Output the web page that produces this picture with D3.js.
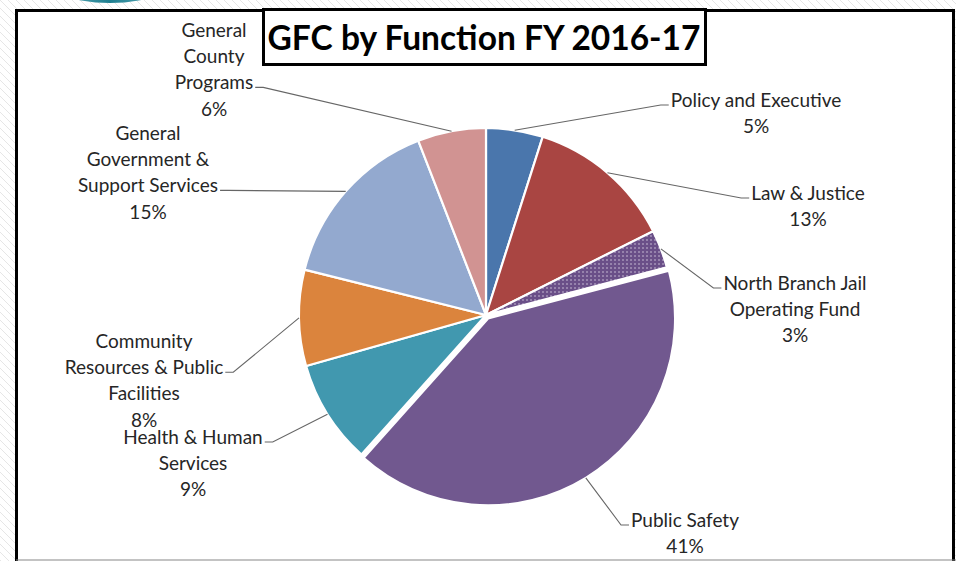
<!DOCTYPE html>
<html>
<head>
<meta charset="utf-8">
<script src="https://cdn.jsdelivr.net/npm/d3@7"></script>
<style>
  html, body { margin: 0; padding: 0; background: #fff; }
  svg { display: block; }
</style>
</head>
<body>
<div id="chart"></div>
<script>
// donnees (parts en %)
const categories = ["Policy and Executive", "Law & Justice", "North Branch Jail Operating Fund",
  "Public Safety", "Health & Human Services", "Community Resources & Public Facilities",
  "General Government & Support Services", "General County Programs"];
const values = [4.9, 12.7, 3.3, 40.7, 9.0, 8.3, 15.2, 5.9];
const pctLabels = ["5%", "13%", "3%", "41%", "9%", "8%", "15%", "6%"];
const labelLines = [
  ["Policy and Executive"],
  ["Law & Justice"],
  ["North Branch Jail", "Operating Fund"],
  ["Public Safety"],
  ["Health & Human", "Services"],
  ["Community", "Resources & Public", "Facilities"],
  ["General", "Government &", "Support Services"],
  ["General", "County", "Programs"]
];
const colors = ["#4A76AC", "#A94542", "#71588F", "#71588F", "#4198AF", "#DB843D", "#93A9CF", "#D19392"];

// mise en page des etiquettes (centre x, centre y de la 1ere ligne, ligne du connecteur, cote)
const labelLayout = [
  {x: 756, y: 101, line: 0, side: "left"},
  {x: 808, y: 194, line: 0, side: "left"},
  {x: 795, y: 284, line: 0, side: "left"},
  {x: 685, y: 521, line: 0, side: "left"},
  {x: 193, y: 438, line: 0, side: "right"},
  {x: 144, y: 342, line: 1, side: "right"},
  {x: 148, y: 134, line: 2, side: "right"},
  {x: 214, y: 31, line: 2, side: "right"}
];

const W = 956, H = 561;
const cx = 486, cy = 315, R = 187;
const LINE_H = 26.2;

const svg = d3.select("#chart").append("svg")
  .attr("width", W).attr("height", H)
  .style("font-family", "Lato, 'Open Sans', sans-serif");

const defs = svg.append("defs");
const hatch = defs.append("pattern").attr("id", "hatch")
  .attr("patternUnits", "userSpaceOnUse").attr("width", 8).attr("height", 8);
hatch.append("rect").attr("width", 8).attr("height", 8).attr("fill", "#fff");
hatch.append("path").attr("d", "M-2,-2 L10,10 M-2,6 L2,10 M6,-2 L10,2")
  .attr("stroke", "#e6e6e6").attr("stroke-width", 1);

const dots = defs.append("pattern").attr("id", "dots")
  .attr("patternUnits", "userSpaceOnUse").attr("width", 4).attr("height", 4);
dots.append("rect").attr("width", 4).attr("height", 4).attr("fill", "#6a4f88");
dots.append("circle").attr("cx", 1).attr("cy", 1).attr("r", 0.75).attr("fill", "#d8cfe3");

const grad = defs.append("linearGradient").attr("id", "teal").attr("x1", 0).attr("x2", 1);
grad.append("stop").attr("offset", "0%").attr("stop-color", "#7fc3cf");
grad.append("stop").attr("offset", "50%").attr("stop-color", "#1f7f90");
grad.append("stop").attr("offset", "100%").attr("stop-color", "#7fc3cf");

// fond
svg.append("rect").attr("width", W).attr("height", H).attr("fill", "url(#hatch)");
svg.append("ellipse").attr("cx", 110).attr("cy", -30).attr("rx", 75).attr("ry", 33)
  .attr("fill", "url(#teal)");

// cadre
svg.append("rect").attr("x", 16.5).attr("y", 10.5).attr("width", 937).attr("height", 560)
  .attr("fill", "#fff").attr("stroke", "#000").attr("stroke-width", 3);
svg.append("line").attr("x1", 16).attr("x2", 956).attr("y1", 560).attr("y2", 560)
  .attr("stroke", "#888").attr("stroke-width", 1.2);

// camembert
const pie = d3.pie().sort(null).value(d => d)
  .startAngle(0).endAngle(2 * Math.PI);
const arcs = pie(values);
const arc = d3.arc().innerRadius(0).outerRadius(R);
const edge = d3.arc().innerRadius(R).outerRadius(R);
const EXPLODE = [0, 0, 0, 4, 0, 0, 0, 0];

function offset(d, i) {
  const a = (d.startAngle + d.endAngle) / 2;
  return [Math.sin(a) * EXPLODE[i], -Math.cos(a) * EXPLODE[i]];
}

const g = svg.append("g").attr("transform", `translate(${cx},${cy})`);
g.selectAll("path.slice")
  .data(arcs)
  .join("path")
  .attr("class", "slice")
  .attr("transform", (d, i) => `translate(${offset(d, i)})`)
  .attr("d", arc)
  .attr("fill", (d, i) => i === 2 ? "url(#dots)" : colors[i])
  .attr("stroke", "#fff")
  .attr("stroke-width", 2.2)
  .attr("stroke-linejoin", "round");

// etiquettes
const labels = svg.append("g").attr("fill", "#262626").attr("font-size", 19);

arcs.forEach((d, i) => {
  const lay = labelLayout[i];
  const lines = labelLines[i].concat([pctLabels[i]]);
  const t = labels.append("text").attr("text-anchor", "middle");
  const spans = lines.map((s, k) => t.append("tspan")
    .attr("x", lay.x)
    .attr("y", lay.y + 6 + k * LINE_H)
    .text(s));

  // connecteur
  const w = spans[lay.line].node().getComputedTextLength();
  const ly = lay.y + 4 + lay.line * LINE_H;
  const lx = lay.side === "left" ? lay.x - w / 2 - 2 : lay.x + w / 2 + 2;
  const hx = lay.side === "left" ? lx - 8 : lx + 8;
  const c = edge.centroid(d);
  const o = offset(d, i);
  const sx = cx + c[0] + o[0], sy = cy + c[1] + o[1];
  svg.append("path")
    .attr("d", d3.line()([[lx, ly], [hx, ly], [sx, sy]]))
    .attr("fill", "none")
    .attr("stroke", "#666")
    .attr("stroke-width", 1.1);
});

// titre
svg.append("rect").attr("x", 263.5).attr("y", 9.5).attr("width", 442).attr("height", 55)
  .attr("fill", "#fff").attr("stroke", "#000").attr("stroke-width", 3);
svg.append("text")
  .attr("x", 484).attr("y", 50)
  .attr("text-anchor", "middle")
  .attr("font-size", 33.5)
  .attr("font-weight", "bold")
  .attr("fill", "#000")
  .text("GFC by Function FY 2016-17");
</script>
</body>
</html>
